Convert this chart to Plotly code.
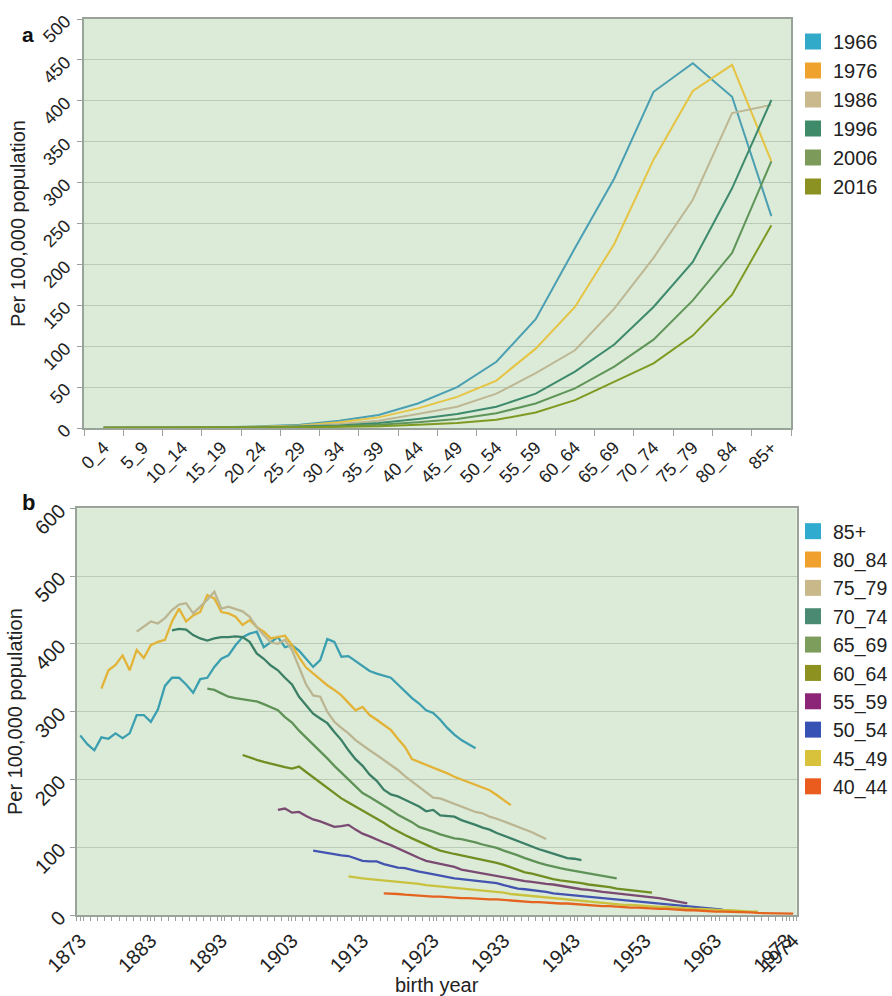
import plotly.graph_objects as go

W, H = 892, 996

# ---------------- Panel a data ----------------
age_groups = ["0_4", "5_9", "10_14", "15_19", "20_24", "25_29", "30_34", "35_39",
              "40_44", "45_49", "50_54", "55_59", "60_64", "65_69", "70_74",
              "75_79", "80_84", "85+"]
years_a = ["1966", "1976", "1986", "1996", "2006", "2016"]
rate_1966 = [0.5, 0.3, 0.5, 1, 2, 4, 9, 16, 30, 50, 81, 133, 220, 305, 411, 446, 405, 259]
rate_1976 = [0.4, 0.3, 0.4, 0.8, 1.5, 3, 7, 13, 24, 38, 58, 97, 148, 225, 328, 412, 444, 326]
rate_1986 = [0.3, 0.2, 0.3, 0.6, 1, 2.5, 5, 9, 17, 26, 42, 67, 95, 146, 208, 279, 385, 395]
rate_1996 = [0.3, 0.2, 0.3, 0.5, 0.8, 1.5, 3, 6, 11, 17, 26, 42, 69, 102, 148, 203, 293, 401]
rate_2006 = [0.2, 0.2, 0.2, 0.4, 0.6, 1, 2, 4, 7, 11, 18, 30, 48.5, 75, 108, 156, 214, 326]
rate_2016 = [0.2, 0.1, 0.2, 0.3, 0.5, 0.8, 1.5, 2, 4, 6, 10, 19, 34, 57, 79, 113, 163, 248]
rates_a = [rate_1966, rate_1976, rate_1986, rate_1996, rate_2006, rate_2016]
line_colors_a = ["#4a9fb2", "#e6c443", "#bdb793", "#3d8a6c", "#5f9559", "#7f9a22"]
legend_colors_a = ["#31a9c9", "#f0a22e", "#c9b98c", "#3f8a69", "#7c9b5a", "#8b9222"]

# ---------------- Panel b data ----------------
groups_b = ["85+", "80_84", "75_79", "70_74", "65_69", "60_64", "55_59", "50_54", "45_49", "40_44"]
start_year_b = [1873, 1876, 1881, 1886, 1891, 1896, 1901, 1906, 1911, 1916]
b_85p = [265, 252, 243, 262, 260, 268, 261, 268, 295, 295, 285, 303, 338, 350, 350, 340, 328,
         348, 350, 366, 378, 383, 398, 410, 415, 418, 395, 403, 410, 395, 398, 390, 378, 366,
         376, 407, 403, 381, 382, 375, 368, 360, 356, 353, 350, 340, 330, 320, 312, 302, 298,
         288, 276, 266, 258, 252, 246]
b_80_84 = [334, 361, 369, 383, 361, 391, 379, 398, 403, 406, 433, 452, 433, 442, 447, 472, 467,
           447, 445, 440, 428, 435, 425, 418, 408, 410, 412, 398, 380, 365, 356, 348, 339, 332,
           324, 313, 302, 307, 295, 288, 280, 273, 260, 248, 230, 226, 222, 218, 214, 209, 204,
           200, 197, 192, 188, 184, 177, 170, 162]
b_75_79 = [418, 425, 433, 430, 438, 450, 458, 460, 445, 455, 465, 477, 452, 455, 452, 448, 440,
           425, 413, 402, 400, 406, 391, 365, 340, 324, 322, 300, 285, 276, 268, 258, 250, 243,
           236, 229, 222, 214, 205, 197, 188, 180, 173, 172, 168, 165, 160, 157, 152, 150, 145,
           142, 138, 135, 130, 126, 122, 117, 112]
b_70_74 = [420, 422, 421, 413, 408, 405, 408, 410, 410, 411, 410, 403, 386, 378, 368, 361, 350,
           340, 322, 310, 297, 290, 283, 270, 258, 243, 230, 220, 207, 198, 185, 178, 175, 170,
           165, 160, 153, 155, 147, 146, 145, 140, 137, 133, 129, 126, 121, 117, 113, 108, 104,
           101, 97, 94, 91, 87, 84, 83, 81]
b_65_69 = [334, 332, 327, 322, 320, 318, 316, 315, 311, 307, 302, 292, 284, 272, 262, 252, 241,
           231, 220, 210, 199, 190, 180, 174, 168, 161, 155, 148, 143, 137, 130, 127, 123, 119,
           116, 113, 112, 110, 107, 104, 102, 99, 95, 92, 88, 84, 80, 77, 74, 71, 69, 67, 65,
           63, 61, 59, 57, 55, 54]
b_60_64 = [236, 232, 229, 226, 223, 220, 218, 216, 219, 211, 203, 196, 187, 180, 172, 166, 160,
           155, 148, 142, 136, 129, 123, 118, 113, 108, 104, 99, 95, 92, 90, 88, 86, 84, 82, 79,
           77, 74, 70, 66, 63, 61, 58, 55, 53, 51, 50, 48, 47, 45, 44, 42, 41, 39, 38, 37, 36,
           34, 33]
b_55_59 = [155, 157, 151, 152, 146, 141, 138, 134, 130, 131, 133, 126, 120, 116, 111, 107, 103,
           98, 93, 88, 84, 80, 78, 76, 74, 71, 67, 65, 63, 62, 60, 58, 56, 54, 52, 50, 49, 47,
           46, 45, 43, 42, 40, 38, 37, 35, 34, 33, 32, 31, 30, 29, 27, 26, 25, 23, 21, 19, 17]
b_50_54 = [95, 93, 92, 90, 88, 87, 84, 80, 79, 79, 75, 72, 70, 69, 66, 64, 62, 60, 57, 55, 54,
           53, 52, 51, 49, 48, 47, 44, 41, 39, 38, 37, 35, 34, 32, 31, 30, 29, 27, 26, 25, 24,
           23, 22, 21, 20, 19, 18, 17, 16, 15, 14, 13, 12, 11, 10, 9, 9, 8]
b_45_49 = [57, 55, 54, 53, 52, 52, 51, 50, 48, 47, 46, 44, 43, 43, 42, 41, 40, 39, 38, 37, 36,
           35, 33, 31, 30, 28, 27, 26, 25, 24, 23, 22, 21, 20, 19, 18, 17, 16, 16, 15, 15, 14,
           13, 13, 12, 12, 11, 10, 10, 9, 9, 8, 8, 7, 7, 6, 6, 5, 5]
b_40_44 = [32, 32, 31, 30, 29, 28, 28, 27, 27, 26, 26, 25, 25, 24, 24, 23, 23, 22, 21, 20, 20,
           19, 19, 18, 18, 17, 17, 16, 15, 15, 14, 13, 13, 12, 12, 11, 11, 10, 10, 9, 9, 8, 8,
           7, 7, 6, 6, 5, 5, 5, 4, 4, 4, 3, 3, 3, 3, 3, 2]
rates_b = [b_85p, b_80_84, b_75_79, b_70_74, b_65_69, b_60_64, b_55_59, b_50_54, b_45_49, b_40_44]
line_colors_b = ["#3c9fb0", "#e3b338", "#bbb592", "#3b7f66", "#5f9257", "#6f8f22",
                 "#7a4a72", "#4253b0", "#c8c23e", "#e4641f"]
legend_colors_b = ["#2fabcf", "#f0a02c", "#c9b98a", "#4a8a72", "#7d9d5d", "#8d9120",
                   "#8c2478", "#3552b4", "#d9c23b", "#ea5b1e"]
tick_years_b = [1873, 1883, 1893, 1903, 1913, 1923, 1933, 1943, 1953, 1963, 1973, 1974]

FONT = "Liberation Sans, Arial, Helvetica, sans-serif"
PLOT_BG = "#dcebd8"
GRID = "#b9cab6"
AXIS_LINE = "#9aa39a"

fig = go.Figure()

# Panel a lines
for name, vals, col in zip(years_a, rates_a, line_colors_a):
    fig.add_trace(go.Scatter(x=age_groups, y=vals, mode="lines", name=name,
                             line=dict(color=col, width=2), showlegend=False,
                             xaxis="x", yaxis="y", hoverinfo="skip"))
for name, col in zip(years_a, legend_colors_a):
    fig.add_trace(go.Scatter(x=[None], y=[None], mode="markers", name=name,
                             marker=dict(symbol="square", size=16, color=col),
                             legend="legend", xaxis="x", yaxis="y"))

# Panel b lines
for name, start, vals, col in zip(groups_b, start_year_b, rates_b, line_colors_b):
    years = list(range(start, start + len(vals)))
    fig.add_trace(go.Scatter(x=years, y=vals, mode="lines", name=name,
                             line=dict(color=col, width=2.3), showlegend=False,
                             xaxis="x2", yaxis="y2", hoverinfo="skip"))
for name, col in zip(groups_b, legend_colors_b):
    fig.add_trace(go.Scatter(x=[None], y=[None], mode="markers", name=name,
                             marker=dict(symbol="square", size=16, color=col),
                             legend="legend2", xaxis="x2", yaxis="y2"))

def px_x(p):
    return p / W

def px_y(p):
    return 1 - p / H

def tf(size):
    return dict(family=FONT, size=size, color="#222")

common = dict(showline=True, linecolor=AXIS_LINE, linewidth=2, mirror=True,
              zeroline=False, automargin=False)

fig.update_layout(
    width=W, height=H,
    margin=dict(l=0, r=0, t=0, b=0, autoexpand=False),
    paper_bgcolor="white",
    plot_bgcolor=PLOT_BG,
    font=dict(family=FONT, color="#222"),
    xaxis=dict(domain=[px_x(84), px_x(791)], anchor="y", type="category",
               categoryorder="array", categoryarray=age_groups,
               range=[-0.5, len(age_groups) - 0.5], tickson="boundaries",
               ticks="outside", ticklen=6, tickcolor=AXIS_LINE, tickangle=-45,
               showgrid=False, tickfont=tf(18), **common),
    yaxis=dict(domain=[px_y(428), px_y(19)], anchor="x", range=[0, 500], dtick=50,
               ticks="outside", ticklen=5, tickcolor=AXIS_LINE, tickangle=-45,
               ticklabelstandoff=8,
               showgrid=True, gridcolor=GRID, gridwidth=1.2, tickfont=tf(18),
               title=dict(text="Per 100,000 population", font=tf(20), standoff=8),
               **common),
    xaxis2=dict(domain=[px_x(76.7), px_x(796.7)], anchor="y2", range=[1872.5, 1974.5],
                tickmode="array", tickvals=tick_years_b, ticktext=[str(v) for v in tick_years_b],
                ticks="outside", ticklen=4, tickcolor=AXIS_LINE, tickangle=-45,
                minor=dict(tickmode="linear", tick0=1872.5, dtick=1, ticks="outside",
                           ticklen=4, tickcolor=AXIS_LINE, showgrid=False),
                showgrid=False, tickfont=tf(20),
                title=dict(text="birth year", font=tf(20), standoff=6),
                **common),
    yaxis2=dict(domain=[px_y(915), px_y(508.3)], anchor="x2", range=[0, 600], dtick=100,
                ticks="outside", ticklen=5, tickcolor=AXIS_LINE, tickangle=-45,
                ticklabelstandoff=6,
                showgrid=True, gridcolor=GRID, gridwidth=1.2, tickfont=tf(20),
                title=dict(text="Per 100,000 population", font=tf(20), standoff=2),
                **common),
    legend=dict(x=px_x(793), y=px_y(22), xanchor="left", yanchor="top",
                font=tf(20), bgcolor="rgba(0,0,0,0)",
                itemclick=False, itemdoubleclick=False),
    legend2=dict(x=px_x(793), y=px_y(512), xanchor="left", yanchor="top",
                 font=tf(19.5), bgcolor="rgba(0,0,0,0)",
                 itemclick=False, itemdoubleclick=False),
    annotations=[
        dict(text="<b>a</b>", x=px_x(20), y=px_y(21), xref="paper", yref="paper",
             showarrow=False, font=dict(family=FONT, size=21, color="#111")),
        dict(text="<b>b</b>", x=px_x(20), y=px_y(503), xref="paper", yref="paper",
             showarrow=False, font=dict(family=FONT, size=22, color="#111")),
    ],
)

fig.write_html("out.html", config={"displayModeBar": False},
               post_script="document.body.style.margin='0px';")
